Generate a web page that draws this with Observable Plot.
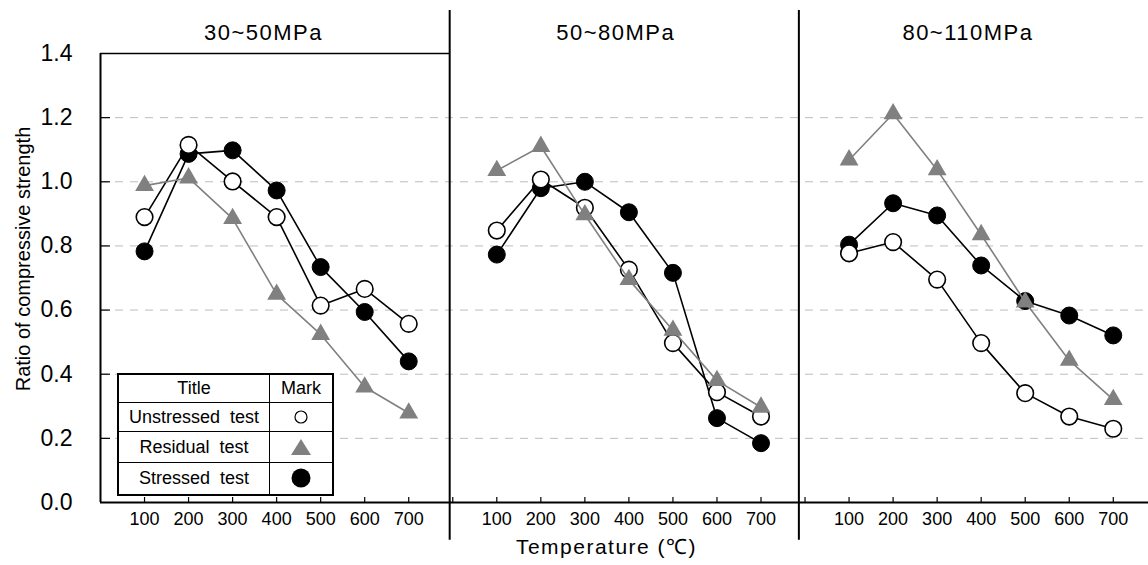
<!DOCTYPE html>
<html><head><meta charset="utf-8">
<script src="https://cdn.jsdelivr.net/npm/d3@7"></script>
<script src="https://cdn.jsdelivr.net/npm/@observablehq/plot@0.6"></script>
<style>
body{margin:0;background:#fff;}
#wrap{position:relative;width:1148px;height:565px;font-family:"Liberation Sans",Arial,sans-serif;}
#legend{position:absolute;left:117px;top:373px;width:217px;height:121px;border-collapse:collapse;border:2px solid #000;background:#fff;font-size:18px;color:#000;}
#legend td{border:1.5px solid #000;text-align:center;padding:0;white-space:pre;line-height:1;}
#legend td svg{display:block;margin:0 auto;}
</style></head><body><div id="wrap"></div>
<script>
const temps = [100, 200, 300, 400, 500, 600, 700];
const panels = ["30~50MPa", "50~80MPa", "80~110MPa"];
const unstressed = [
  [0.890, 1.115, 1.001, 0.890, 0.614, 0.666, 0.557],
  [0.848, 1.007, 0.919, 0.726, 0.497, 0.344, 0.268],
  [0.777, 0.812, 0.695, 0.497, 0.341, 0.268, 0.230]
];
const residual = [
  [0.988, 1.012, 0.885, 0.649, 0.524, 0.360, 0.279],
  [1.035, 1.110, 0.897, 0.695, 0.537, 0.380, 0.297],
  [1.068, 1.212, 1.037, 0.835, 0.625, 0.443, 0.321]
];
const stressed = [
  [0.783, 1.087, 1.098, 0.973, 0.734, 0.594, 0.440],
  [0.773, 0.980, 1.000, 0.905, 0.716, 0.263, 0.185],
  [0.804, 0.933, 0.895, 0.739, 0.628, 0.583, 0.521]
];
const yTicks = [0, 0.2, 0.4, 0.6, 0.8, 1.0, 1.2, 1.4];
const gridVals = [0.2, 0.4, 0.6, 0.8, 1.0, 1.2];
const panelSpan = 800;
const separators = [793, 1586];
const legendRows = [
  {label: "Unstressed  test", mark: "open"},
  {label: "Residual  test", mark: "tri"},
  {label: "Stressed  test", mark: "filled"}
];

function rows(series) {
  const out = [];
  series.forEach((vals, i) => vals.forEach((v, j) => out.push({panel: i, temp: temps[j], xg: i * panelSpan + temps[j], value: v})));
  return out;
}
const U = rows(unstressed), R = rows(residual), S = rows(stressed);
const xTickVals = [];
panels.forEach((p, i) => { if (i > 0) xTickVals.push(i * panelSpan); temps.forEach(t => xTickVals.push(i * panelSpan + t)); });
const xLabelVals = [];
panels.forEach((p, i) => temps.forEach(t => xLabelVals.push(i * panelSpan + t)));
const titleRows = panels.map((name, i) => ({name, xc: i * panelSpan + 370}));

const font = "'Liberation Sans', Arial, sans-serif";
const chart = Plot.plot({
  width: 1148, height: 565,
  marginLeft: 100, marginRight: 0, marginTop: 53, marginBottom: 63,
  style: {fontFamily: font, background: "white", overflow: "visible", color: "#000"},
  x: {domain: [0, 2380], axis: null},
  y: {domain: [0, 1.4], axis: null},
  marks: [
    Plot.ruleY(gridVals, {stroke: "#bdbdbd", strokeWidth: 1, strokeDasharray: "8,7"}),
    Plot.ruleY([1.4], {x1: 0, x2: separators[0], stroke: "#000", strokeWidth: 1.5}),
    Plot.ruleX(separators, {y1: -0.118, y2: 1.534, stroke: "#000", strokeWidth: 2}),
    Plot.axisY({ticks: gridVals, tickSize: 10, dx: 10, tickFormat: () => "", label: null, strokeWidth: 1.2}),
    Plot.axisX({ticks: xTickVals, tickSize: 5, dy: -5, tickFormat: () => "", label: null, strokeWidth: 1.2}),
    Plot.axisY({ticks: yTicks, tickSize: 0, tickPadding: 28, tickFormat: d3.format(".1f"), label: null, fontSize: 23}),
    Plot.axisX({ticks: xLabelVals, tickSize: 0, tickPadding: 10, tickFormat: d => d % panelSpan, label: null, fontSize: 18}),
    Plot.ruleX([0], {stroke: "#000", strokeWidth: 2}),
    Plot.ruleY([0], {stroke: "#000", strokeWidth: 2}),
    Plot.line(S, {x: "xg", y: "value", z: "panel", stroke: "#000", strokeWidth: 1.6}),
    Plot.dot(S, {x: "xg", y: "value", r: 8.5, fill: "#000", stroke: "#000", strokeWidth: 1}),
    Plot.line(U, {x: "xg", y: "value", z: "panel", stroke: "#000", strokeWidth: 1.6}),
    Plot.dot(U, {x: "xg", y: "value", r: 8.3, fill: "#fff", stroke: "#000", strokeWidth: 1.6}),
    Plot.line(R, {x: "xg", y: "value", z: "panel", stroke: "#808080", strokeWidth: 1.6}),
    Plot.dot(R, {x: "xg", y: "value", r: 7, symbol: "triangle", fill: "#808080", stroke: "none"}),
    Plot.text(titleRows, {x: "xc", frameAnchor: "top", dy: -29, text: "name", fontSize: 22, fill: "#000"}),
    Plot.text(["Temperature (℃)"], {text: d => d, frameAnchor: "bottom", textAnchor: "middle", dx: -18, dy: 51, fontSize: 21, fill: "#000"}),
    Plot.text(["Ratio of compressive strength"], {text: d => d, frameAnchor: "left", textAnchor: "middle", rotate: -90, dx: -77, dy: -19, fontSize: 20, fill: "#000"})
  ]
});
d3.select(chart).selectAll("text").filter(function() { const t = this.textContent; return t.includes("MPa") || t.includes("Temperature"); }).attr("letter-spacing", "1.5px");
const wrap = document.getElementById("wrap");
wrap.appendChild(chart);

// legend table
const table = document.createElement("table");
table.id = "legend";
const heights = [28, 29, 31, 33];
const head = table.insertRow();
head.style.height = heights[0] + "px";
head.insertCell().textContent = "Title";
head.insertCell().textContent = "Mark";
legendRows.forEach((r, i) => {
  const tr = table.insertRow();
  tr.style.height = heights[i + 1] + "px";
  const c1 = tr.insertCell(); c1.textContent = r.label; c1.style.width = "150px";
  const c2 = tr.insertCell();
  let svg;
  if (r.mark === "open") svg = '<svg width="16" height="16"><circle cx="8" cy="8" r="6" fill="#fff" stroke="#000" stroke-width="1.2"/></svg>';
  else if (r.mark === "tri") svg = '<svg width="22" height="20"><path d="M11,2 L21,18 L1,18 Z" fill="#808080"/></svg>';
  else svg = '<svg width="22" height="22"><ellipse cx="11" cy="11" rx="9.5" ry="9.5" fill="#000"/></svg>';
  c2.innerHTML = svg;
});
wrap.appendChild(table);
</script>
</body></html>
